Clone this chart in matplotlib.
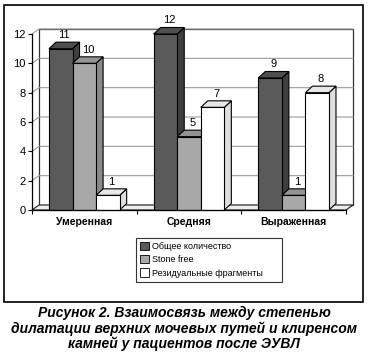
import matplotlib.pyplot as plt
from matplotlib.patches import Polygon, Rectangle, Patch

# данные
categories = ['Умеренная', 'Средняя', 'Выраженная']
total = [11, 12, 9]
stone_free = [10, 5, 1]
residual = [1, 7, 8]
series_names = ['Общее количество', 'Stone free', 'Резидуальные фрагменты']
yticks = [0, 2, 4, 6, 8, 10, 12]
caption = ('Рисунок 2. Взаимосвязь между степенью\n'
           'дилатации верхних мочевых путей и клиренсом\n'
           'камней у пациентов после ЭУВЛ')

# цвета: фронт, бок, верх
colors = [('#5a5a5a', '#3e3e3e', '#4e4e4e'),
          ('#a8a8a8', '#8a8a8a', '#949494'),
          ('#ffffff', '#dedede', '#e8e8e8')]

plt.rcParams['font.family'] = ['Liberation Sans', 'DejaVu Sans']

W, H = 368, 354
fig = plt.figure(figsize=(W / 100, H / 100), dpi=100)
ax = fig.add_axes([32 / W, 1 - 210 / H, 314 / W, 176 / H])
ax.set_xlim(0, 3)
ax.set_ylim(0, 12)

# размер пикселя в единицах данных
px = 3 / 314
py = 12 / 176
wdx, wdy = 7 * px, 5 * py      # глубина стенки
bdx, bdy = 7 * px, 6.5 * py    # глубина столбика

# задняя стенка, пол, сетка
ax.add_patch(Polygon([(0, 0), (wdx, wdy), (wdx, 12 + wdy), (0, 12)],
                     closed=True, facecolor='white', edgecolor='none', zorder=0))
ax.add_patch(Rectangle((wdx, wdy), 3, 12, facecolor='white', edgecolor='#333333',
                       lw=0.9, zorder=0.5, clip_on=False))
for v in yticks[1:]:
    ax.plot([0, wdx, 3 + wdx], [v, v + wdy, v + wdy], color='#9a9a9a', lw=0.8,
            zorder=1, clip_on=False)
ax.add_patch(Polygon([(0, 0), (3, 0), (3 + wdx, wdy), (wdx, wdy)], closed=True,
                     facecolor='#ececec', edgecolor='#222222', lw=0.8, zorder=1,
                     clip_on=False))

# столбики
bw = 0.225
start = 0.5 - 1.5 * bw
for i in range(len(categories)):
    for s, vals in enumerate([total, stone_free, residual]):
        v = vals[i]
        x0 = i + start + s * bw
        x1 = x0 + bw
        front, side, top = colors[s]
        z = 2 + i * 3 + s
        ax.add_patch(Polygon([(x1, 0), (x1 + bdx, bdy), (x1 + bdx, v + bdy), (x1, v)],
                             closed=True, facecolor=side, edgecolor='black', lw=0.8,
                             zorder=z, clip_on=False))
        ax.add_patch(Polygon([(x0, v), (x1, v), (x1 + bdx, v + bdy), (x0 + bdx, v + bdy)],
                             closed=True, facecolor=top, edgecolor='black', lw=0.8,
                             zorder=z, clip_on=False))
        ax.add_patch(Rectangle((x0, 0), bw, v, facecolor=front, edgecolor='black',
                               lw=0.8, zorder=z + 0.1, clip_on=False))
        ax.text((x0 + x1) / 2 + bdx / 2, v + bdy + 0.15, str(v), ha='center',
                va='bottom', fontsize=8, zorder=20)

# оси
for sp in ['top', 'right']:
    ax.spines[sp].set_visible(False)
for sp in ['left', 'bottom']:
    ax.spines[sp].set_zorder(30)
    ax.spines[sp].set_linewidth(0.9)
ax.patch.set_visible(False)
ax.set_yticks(yticks)
ax.set_yticklabels([str(v) for v in yticks], fontsize=8)
ax.tick_params(axis='y', length=3, width=0.8, pad=1.5)
ax.set_xticks([0.5, 1.5, 2.5])
ax.set_xticklabels(categories, fontsize=7.5, fontweight='bold')
ax.tick_params(axis='x', which='major', length=0, pad=5)
ax.set_xticks([0, 1, 2, 3], minor=True)
ax.tick_params(axis='x', which='minor', length=3, width=0.8)

# легенда
handles = [Patch(facecolor=c[0], edgecolor='black', lw=0.6) for c in colors]
leg = fig.legend(handles, series_names, loc='upper left', mode='expand',
                 bbox_to_anchor=(136 / W, 1 - 284 / H, 146 / W, 46 / H), fontsize=6.5,
                 frameon=True, fancybox=False, edgecolor='black',
                 handlelength=1.0, handleheight=1.0, handletextpad=0.3,
                 labelspacing=0.45, borderpad=0.45, borderaxespad=0)
leg.get_frame().set_linewidth(0.8)

# рамка
fig.patches.append(Rectangle((4 / W, 1 - 302 / H), 359 / W, 297 / H,
                             transform=fig.transFigure, fill=False,
                             edgecolor='black', lw=1.2))

fig.text(0.5, 1 - 306 / H, caption, ha='center', va='top', fontsize=10,
         fontweight='bold', fontstyle='italic', linespacing=1.08)

fig.savefig('out.png', dpi=100)
